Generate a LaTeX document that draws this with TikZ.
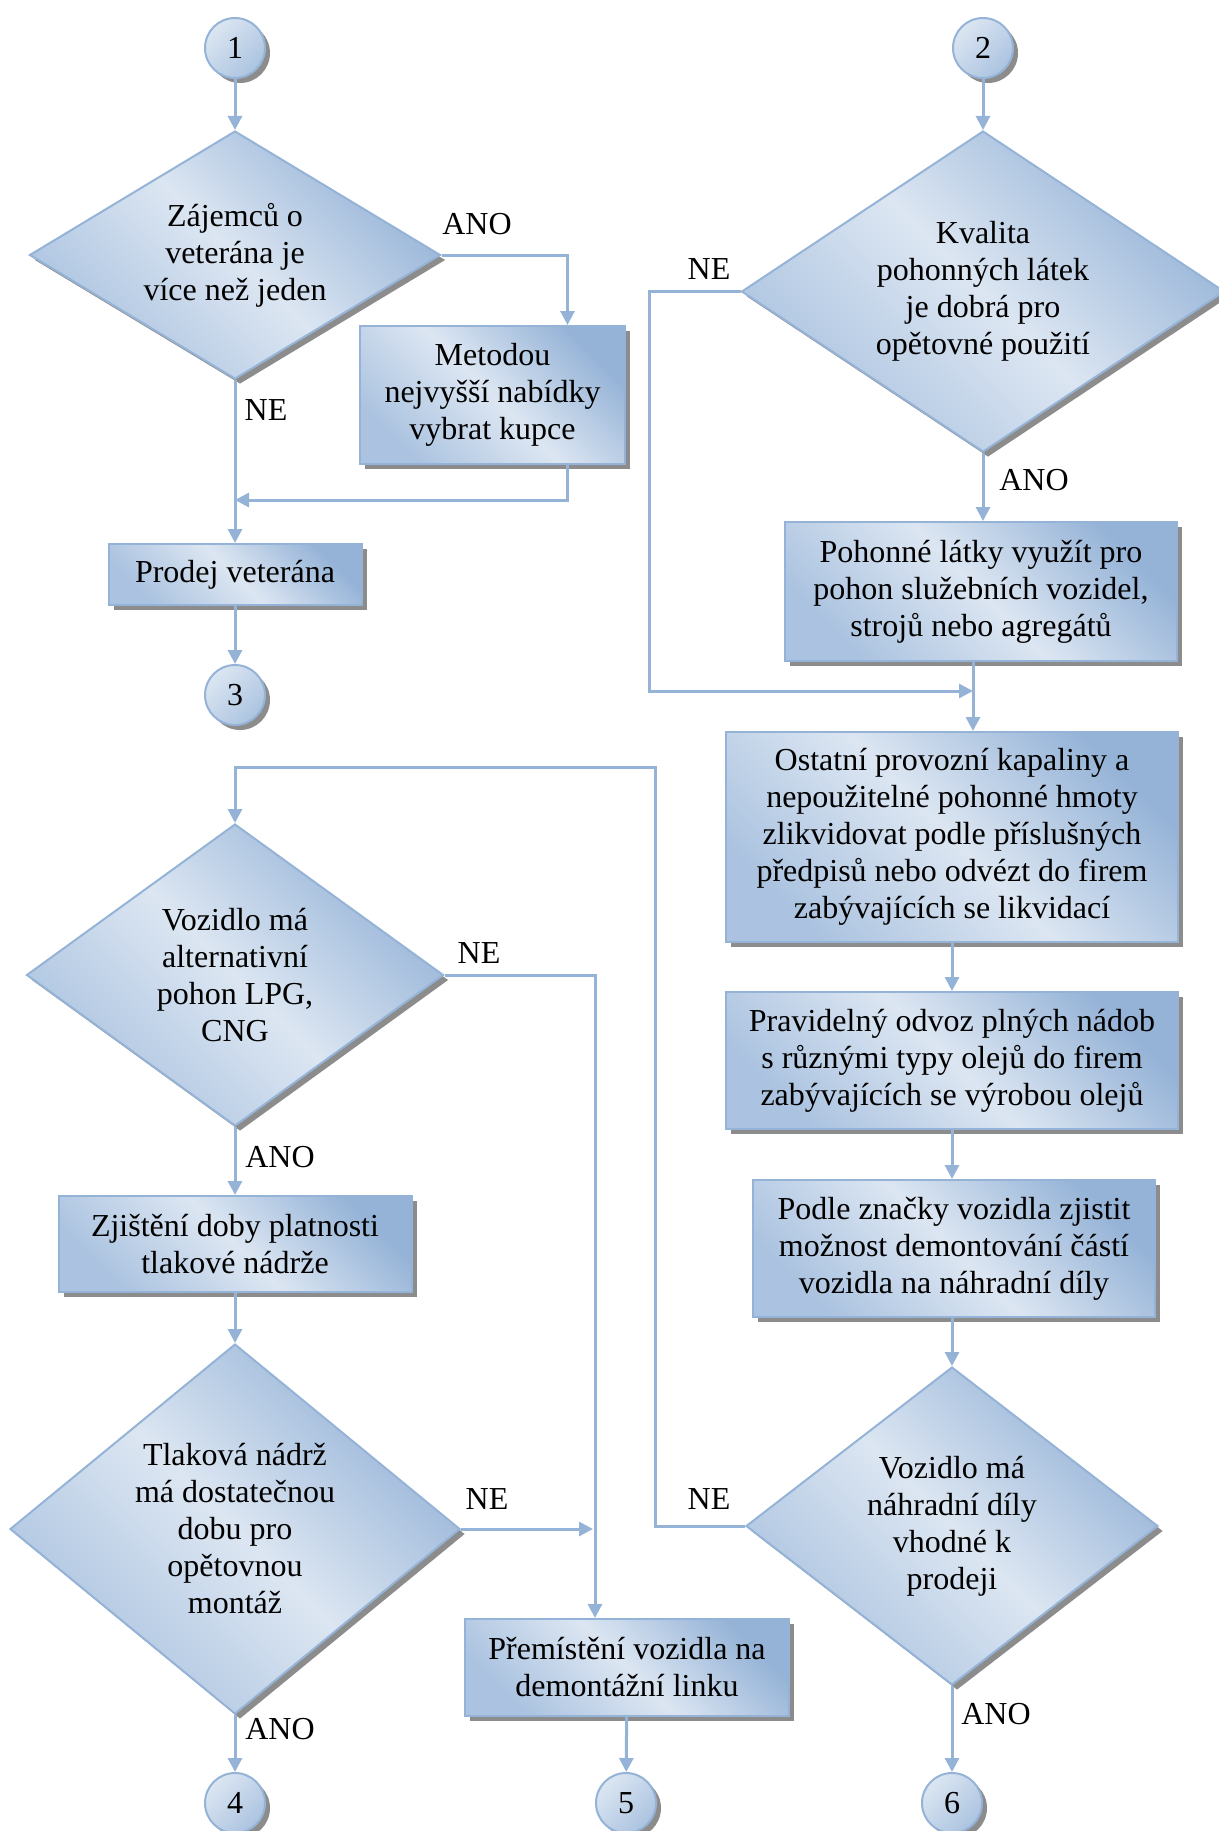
\documentclass[tikz,border=0pt]{standalone}
\usepackage{fontspec}
\setmainfont{Liberation Serif}
\usetikzlibrary{positioning,arrows.meta,calc,shapes.geometric,shadows}
\definecolor{edge}{HTML}{95B3D7}
\definecolor{shdark}{HTML}{95B3D7}
\definecolor{shmid}{HTML}{ABC3E0}
\definecolor{shlight}{HTML}{DCE6F2}
\tikzset{
  shadowed/.style={drop shadow={shadow xshift=2.5pt,shadow yshift=-2.5pt,fill=black!45,opacity=1}},
  proc/.style={rectangle,draw=edge,line width=1pt,top color=shdark,bottom color=shmid,middle color=shlight,shading angle=-45,shadowed,align=center,inner sep=0pt,font=\fontsize{16}{18.5}\selectfont},
  decision/.style={proc,diamond},
  connector/.style={proc,circle,top color=shlight,bottom color=shmid,shading angle=45,minimum size=30pt},
  flow/.style={-{Triangle[length=7pt,width=7pt]},draw=edge,line width=1.5pt},
  answer/.style={inner sep=0pt,font=\fontsize{16}{18.5}\selectfont}
}

\begin{document}
\begin{tikzpicture}[x=0.5pt,y=-0.5pt]
  \useasboundingbox (0,0) rectangle (1219,1831);
  % left column, top
  \node[connector] (c1) at (235,48) {1};
  \node[decision,minimum width=205.5pt,minimum height=124pt,aspect=1.66] (d1) at (235,255) {Zájemců o\\veterána je\\více než jeden};
  \node[proc,minimum width=132.5pt,minimum height=69pt] (metodou) at (492.5,395) {Metodou\\nejvyšší nabídky\\vybrat kupce};
  \node[proc,minimum width=126.5pt,minimum height=30.5pt] (prodej) at (235,574.5) {Prodej veterána};
  \node[connector] (c3) at (235,695) {3};
  \coordinate (join1) at (235,500);
  \draw[flow] (c1) -- (d1);
  \draw[flow] (d1.east) -| ([xshift=37.5pt]metodou.north);
  \draw[flow] ([xshift=37.5pt]metodou.south) |- (join1);
  \draw[flow] (d1) -- (prodej);
  \draw[flow] (prodej) -- (c3);
  \node[answer] (ano1) at (477,224) {ANO};
  \node[answer] (ne1) at (266,410) {NE};
  % left column, bottom
  \node[decision,minimum width=208.5pt,minimum height=151pt,aspect=1.38] (d3) at (235,975) {Vozidlo má\\alternativní\\pohon LPG,\\CNG};
  \node[proc,minimum width=176.5pt,minimum height=48pt] (zjisteni) at (235,1244) {Zjištění doby platnosti\\tlakové nádrže};
  \node[decision,minimum width=225pt,minimum height=185pt,aspect=1.22] (d5) at (235,1529) {Tlaková nádrž\\má dostatečnou\\dobu pro\\opětovnou\\montáž};
  \node[connector] (c4) at (235,1803) {4};
  \node[proc,minimum width=162pt,minimum height=48.5pt] (premisteni) at (627,1667.5) {Přemístění vozidla na\\demontážní linku};
  \node[connector] (c5) at (626,1803) {5};
  \coordinate (join5) at (593,1529);
  \draw[flow] (d3) -- (zjisteni);
  \draw[flow] (zjisteni) -- (d5);
  \draw[flow] (d5) -- (c4);
  \draw[flow] (d3.east) -| ([xshift=-16pt]premisteni.north);
  \draw[flow] (d5.east) -- (join5);
  \draw[flow] (premisteni) -- (c5);
  \node[answer] (ne3) at (479,953) {NE};
  \node[answer] (ano3) at (280,1157) {ANO};
  \node[answer] (ne5) at (487,1499) {NE};
  \node[answer] (ano5) at (280,1729) {ANO};
  % right column
  \node[connector] (c2) at (983,48) {2};
  \node[decision,minimum width=241.5pt,minimum height=160.5pt,aspect=1.5] (d2) at (983,291.5) {Kvalita\\pohonných látek\\je dobrá pro\\opětovné použití};
  \node[proc,minimum width=196pt,minimum height=69.5pt] (pohonne) at (981,591.5) {Pohonné látky využít pro\\pohon služebních vozidel,\\strojů nebo agregátů};
  \node[proc,minimum width=226pt,minimum height=105pt] (ostatni) at (952,837) {Ostatní provozní kapaliny a\\nepoužitelné pohonné hmoty\\zlikvidovat podle příslušných\\předpisů nebo odvézt do firem\\zabývajících se likvidací};
  \node[proc,minimum width=226pt,minimum height=68.5pt] (pravidelny) at (952,1060.5) {Pravidelný odvoz plných nádob\\s různými typy olejů do firem\\zabývajících se výrobou olejů};
  \node[proc,minimum width=201pt,minimum height=68.5pt] (podle) at (954,1248.5) {Podle značky vozidla zjistit\\možnost demontování částí\\vozidla na náhradní díly};
  \node[decision,minimum width=206pt,minimum height=159pt,aspect=1.3] (d4) at (952,1526) {Vozidlo má\\náhradní díly\\vhodné k\\prodeji};
  \node[connector] (c6) at (952,1803) {6};
  \coordinate (m2) at (973,691);
  \coordinate (ne2c) at (649,691);
  \coordinate (ne4c) at (655,767);
  \draw[flow] (c2) -- (d2);
  \draw[flow] (d2) -- (d2 |- pohonne.north);
  \draw[flow] (pohonne.south -| m2) -- (ostatni.north -| m2);
  \draw[flow] (d2.west) -| (ne2c) -- (m2);
  \draw[flow] (ostatni) -- (pravidelny);
  \draw[flow] (pravidelny.south) -- (pravidelny.south |- podle.north);
  \draw[flow] (podle.south -| d4) -- (d4);
  \draw[flow] (d4) -- (c6);
  \draw[flow] (d4.west) -| (ne4c) -| (d3.north);
  \node[answer] (ne2) at (709,269) {NE};
  \node[answer] (ano2) at (1034,480) {ANO};
  \node[answer] (ne4) at (709,1499) {NE};
  \node[answer] (ano4) at (996,1714) {ANO};
\end{tikzpicture}
\end{document}
